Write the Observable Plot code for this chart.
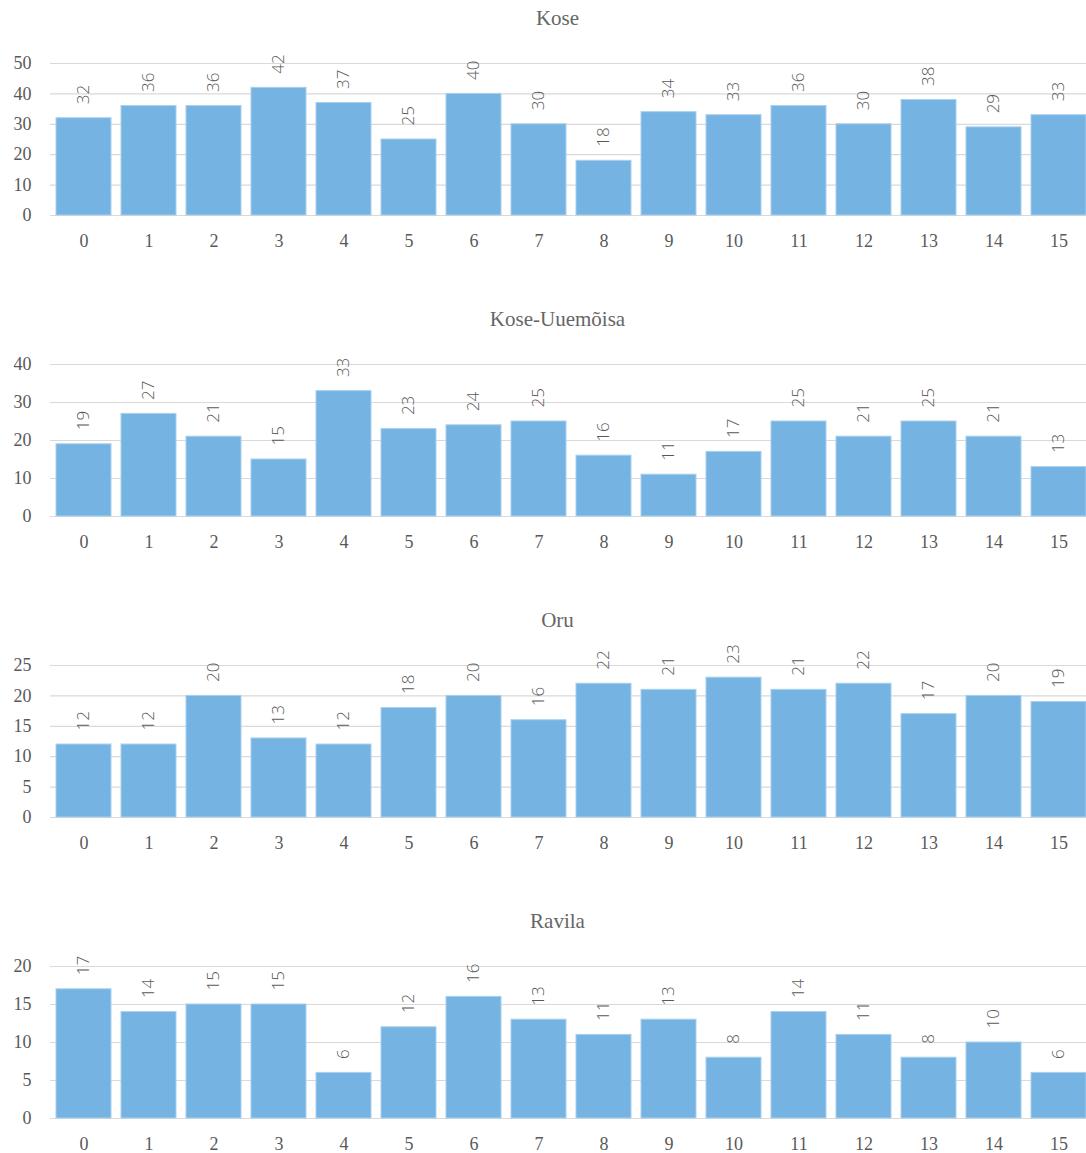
<!DOCTYPE html>
<html>
<head>
<meta charset="utf-8">
<script src="https://cdn.jsdelivr.net/npm/d3@7"></script>
<script src="https://cdn.jsdelivr.net/npm/@observablehq/plot@0.6"></script>
<style>
  html, body { margin: 0; padding: 0; background: #fff; overflow: hidden; width: 1086px; }
  #charts svg { display: block; max-width: none !important; }
</style>
</head>
<body>
<div id="charts"></div>
<script>
const categories = [0,1,2,3,4,5,6,7,8,9,10,11,12,13,14,15];
const titles = ["Kose", "Kose-Uuemõisa", "Oru", "Ravila"];
const kose = [32,36,36,42,37,25,40,30,18,34,33,36,30,38,29,33];
const koseUuemoisa = [19,27,21,15,33,23,24,25,16,11,17,25,21,25,21,13];
const oru = [12,12,20,13,12,18,20,16,22,21,23,21,22,17,20,19];
const ravila = [17,14,15,15,6,12,16,13,11,13,8,14,11,8,10,6];
const yMax = [50, 40, 25, 20];
const yTicks = [[0,10,20,30,40,50],[0,10,20,30,40],[0,5,10,15,20,25],[0,5,10,15,20]];
const series = [kose, koseUuemoisa, oru, ravila];

const container = document.getElementById("charts");
const gray = "#595959";
const serif = "'Liberation Serif', 'DejaVu Serif', serif";

series.forEach((vals, i) => {
  const data = categories.map((c, j) => ({cat: String(c), value: vals[j]}));
  const chart = Plot.plot({
    width: 1092,
    height: 301,
    marginTop: 63,
    marginBottom: 86,
    marginLeft: 50,
    marginRight: 0,
    style: {fontFamily: serif, fontSize: "18px", color: gray, background: "#fff", maxWidth: "none"},
    x: {domain: categories.map(String), paddingInner: 0.154, paddingOuter: 0.077, label: null, tickSize: 0, tickPadding: 19},
    y: {domain: [0, yMax[i]], ticks: yTicks[i], label: null, tickSize: 0, tickPadding: 19},
    marks: [
      Plot.ruleY(yTicks[i], {stroke: "#d9d9d9", strokeWidth: 1.2}),
      Plot.barY(data, {x: "cat", y: "value", fill: "#74b3e2", stroke: "#a9d0ee", strokeWidth: 1}),
      Plot.text(data, {x: "cat", y: "value", text: d => String(d.value), rotate: -90, textAnchor: "start", lineAnchor: "middle", dy: -14,
        fill: gray, fontSize: 17, fontFamily: "'Open Sans', 'Noto Sans', sans-serif", fontWeight: 300}),
      Plot.text([titles[i]], {frameAnchor: "top", lineAnchor: "middle", text: d => d, dy: -45, dx: -14, fontSize: 21, fontWeight: "normal", fill: "#666666", fontFamily: serif}),
      Plot.axisX({tickSize: 0, tickPadding: 19, fill: gray, fontSize: 18}),
      Plot.axisY({ticks: yTicks[i], tickSize: 0, tickPadding: 19, fill: gray, fontSize: 18})
    ]
  });
  container.appendChild(chart);
});
</script>
</body>
</html>
